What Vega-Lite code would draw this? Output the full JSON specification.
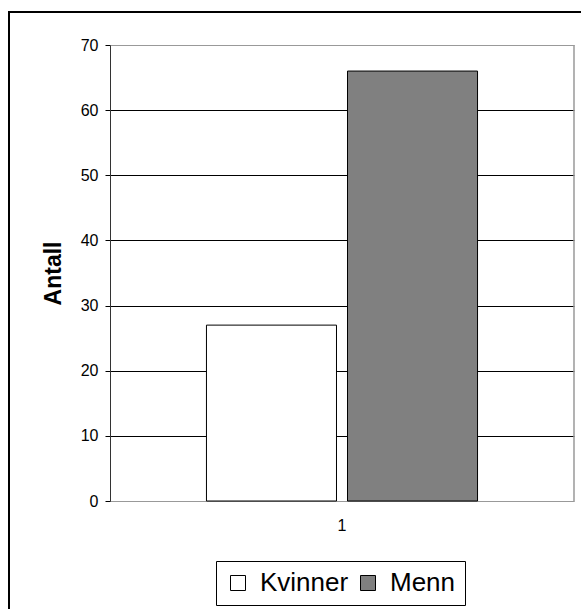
{
  "$schema": "https://vega.github.io/schema/vega-lite/v6.json",
  "width": 572,
  "height": 597,
  "autosize": "none",
  "padding": {"left": 9, "top": 12, "right": 0, "bottom": 0},
  "background": "white",
  "config": {
    "view": {"stroke": "black", "strokeWidth": 2, "strokeDash": [572, 1169, 597], "fill": "white"},
    "font": "Liberation Sans"
  },
  "data": {
    "values": [
      {"gruppe": "1", "kjonn": "Kvinner", "antall": 27},
      {"gruppe": "1", "kjonn": "Menn", "antall": 66}
    ]
  },
  "encoding": {
    "x": {
      "field": "gruppe",
      "type": "nominal",
      "scale": {"range": [101, 565], "paddingInner": 0, "paddingOuter": 0},
      "axis": {
        "title": null,
        "orient": "bottom",
        "offset": -108,
        "labelAngle": 0,
        "labelFontSize": 16,
        "labelColor": "black",
        "labelPadding": 16,
        "ticks": false,
        "domainColor": "#999999",
        "grid": false
      }
    }
  },
  "layer": [
    {
      "mark": {"type": "rule", "color": "#999999", "strokeWidth": 1},
      "encoding": {
        "x": {"field": "gruppe", "type": "nominal", "bandPosition": 1},
        "y": {"datum": 0, "type": "quantitative"},
        "y2": {"datum": 70}
      }
    },
    {
      "mark": {"type": "bar", "stroke": "black", "strokeWidth": 1},
      "encoding": {
        "xOffset": {
          "field": "kjonn",
          "type": "nominal",
          "scale": {"paddingInner": 0.078, "paddingOuter": 0.684}
        },
        "y": {
          "field": "antall",
          "type": "quantitative",
          "scale": {"domain": [0, 70], "range": [489, 33], "nice": false, "zero": true},
          "axis": {
            "title": "Antall",
            "offset": -101,
            "values": [0, 10, 20, 30, 40, 50, 60, 70],
            "grid": true,
            "gridColor": {"condition": {"test": "datum.value === 0 || datum.value === 70", "value": "#999999"}, "value": "black"},
            "gridWidth": 1,
            "domainColor": "#333333",
            "tickColor": "black",
            "tickSize": 5,
            "labelFontSize": 16,
            "labelColor": "black",
            "labelPadding": 7,
            "titleFontSize": 23,
            "titleFontWeight": "bold",
            "titleColor": "black",
            "titlePadding": 15
          }
        },
        "color": {
          "field": "kjonn",
          "type": "nominal",
          "scale": {"domain": ["Kvinner", "Menn"], "range": ["white", "#808080"]},
          "legend": {
            "title": null,
            "orient": "none",
            "direction": "horizontal",
            "legendX": 207,
            "legendY": 549,
            "strokeColor": "black",
            "padding": 9,
            "symbolType": "square",
            "symbolSize": 225,
            "symbolStrokeColor": "black",
            "symbolStrokeWidth": 1,
            "symbolOpacity": 1,
            "labelFontSize": 26,
            "labelColor": "black",
            "columnPadding": 6,
            "labelOffset": 9
          }
        }
      }
    }
  ]
}
